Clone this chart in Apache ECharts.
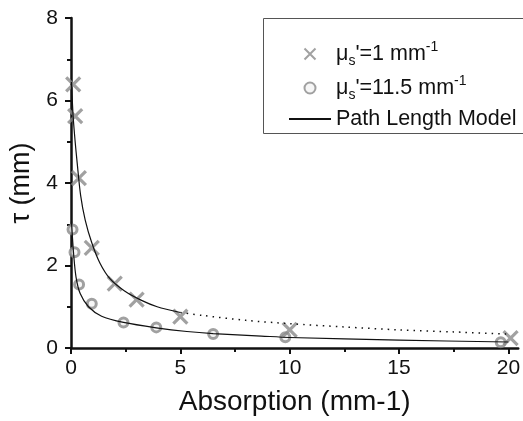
<!DOCTYPE html>
<html>
<head>
<meta charset="utf-8">
<script src="https://cdn.jsdelivr.net/npm/echarts@6/dist/echarts.min.js"></script>
<style>
  html, body { margin: 0; padding: 0; background: #fff; }
  #chart { width: 523px; height: 421px; }
</style>
</head>
<body>
<div id="chart"></div>
<script>
// measured points, mu_s' = 1 mm-1 (crosses)
const crossX = [0.1, 0.19, 0.36, 0.95, 2, 3, 5, 10, 20.1];
const crossY = [6.39, 5.62, 4.12, 2.43, 1.56, 1.17, 0.76, 0.44, 0.24];
// measured points, mu_s' = 11.5 mm-1 (circles)
const circX = [0.07, 0.16, 0.37, 0.95, 2.4, 3.9, 6.5, 9.8, 19.65];
const circY = [2.87, 2.32, 1.54, 1.07, 0.62, 0.5, 0.34, 0.26, 0.14];
// path length model, upper curve (solid part, then dotted extension)
const upperX = [0.02, 0.1, 0.19, 0.28, 0.44, 0.65, 0.95, 1.32, 1.78, 2.45, 3.2, 3.94, 5.0];
const upperY = [6.45, 5.6, 5.0, 4.5, 3.7, 3.1, 2.55, 2.06, 1.68, 1.38, 1.16, 1.0, 0.86];
const dotX = [5, 6, 8, 10, 12.5, 15, 17.5, 20];
const dotY = [0.86, 0.79, 0.67, 0.59, 0.51, 0.44, 0.39, 0.335];
// path length model, lower curve
const lowerX = [0.02, 0.12, 0.23, 0.42, 0.8, 1.4, 2.4, 3.9, 5.3, 6.5, 8.7, 10, 15, 20];
const lowerY = [3.07, 2.28, 1.72, 1.32, 1.0, 0.77, 0.62, 0.49, 0.40, 0.35, 0.29, 0.255, 0.19, 0.145];

const xTicks = [0, 5, 10, 15, 20];
const xMinorTicks = [2.5, 7.5, 12.5, 17.5];

const pairs = (xs, ys) => xs.map((x, i) => [x, ys[i]]);

const font = '"Liberation Sans", Arial, sans-serif';
const grey = '#8a8a8a';

const chart = echarts.init(document.getElementById('chart'));

const legendText = {
  cross: '{a|\u03bc}{sub|s}{a|\'=1 mm}{sup|-1}',
  circ: '{a|\u03bc}{sub|s}{a|\'=11.5 mm}{sup|-1}',
  'Path Length Model': '{a|Path Length Model}'
};

chart.setOption({
  animation: false,
  grid: { left: 67.7, right: 2, top: 18, bottom: 69.3 },
  graphic: [{
    type: 'rect',
    shape: { x: 263.5, y: 18.5, width: 270, height: 115 },
    style: { fill: 'none', stroke: '#555', lineWidth: 1 },
    z: 10
  }],
  legend: {
    orient: 'vertical',
    left: 283,
    top: 35,
    itemWidth: 42,
    itemHeight: 11,
    itemGap: 6,
    data: [
      { name: 'cross' },
      { name: 'circ' },
      { name: 'Path Length Model', itemStyle: { color: 'rgba(0,0,0,0)', borderColor: 'rgba(0,0,0,0)', borderWidth: 0 } }
    ],
    formatter: name => legendText[name],
    textStyle: {
      fontFamily: font,
      color: '#111',
      rich: {
        a: { fontSize: 21.5, fontFamily: font, color: '#111', lineHeight: 28 },
        sub: { fontSize: 14, fontFamily: font, color: '#111', verticalAlign: 'bottom', lineHeight: 28 },
        sup: { fontSize: 14, fontFamily: font, color: '#111', verticalAlign: 'top', lineHeight: 28 }
      }
    },
    selectedMode: false
  },
  xAxis: [{
    type: 'value',
    min: 0,
    max: 20.45,
    name: 'Absorption (mm-1)',
    nameLocation: 'middle',
    nameGap: 40,
    nameTextStyle: { fontSize: 28, fontFamily: font, color: '#111' },
    splitLine: { show: false },
    axisLine: { show: true, onZero: false, lineStyle: { color: '#111', width: 2.5 } },
    axisTick: { show: true, length: 6, customValues: xTicks, lineStyle: { color: '#111', width: 2 } },
    axisLabel: { customValues: xTicks, margin: 10, fontSize: 21, fontFamily: font, color: '#111' }
  }, {
    type: 'value',
    min: 0,
    max: 20.45,
    position: 'bottom',
    splitLine: { show: false },
    axisLine: { show: false },
    axisTick: { show: true, length: 4, customValues: xMinorTicks, lineStyle: { color: '#111', width: 2 } },
    axisLabel: { show: false }
  }],
  yAxis: {
    type: 'value',
    min: 0,
    max: 8,
    interval: 2,
    name: '\u03c4 (mm)',
    nameLocation: 'middle',
    nameGap: 36,
    nameTextStyle: { fontSize: 27, fontFamily: font, color: '#111' },
    splitLine: { show: false },
    axisLine: { show: true, onZero: false, lineStyle: { color: '#111', width: 2.5 } },
    axisTick: { show: true, length: 6, lineStyle: { color: '#111', width: 2 } },
    minorTick: { show: true, splitNumber: 2, length: 4, lineStyle: { color: '#111', width: 2 } },
    axisLabel: { margin: 13, fontSize: 21, fontFamily: font, color: '#111' }
  },
  series: [
    {
      name: 'circ',
      type: 'scatter',
      data: pairs(circX, circY),
      symbol: 'circle',
      symbolSize: 9,
      itemStyle: { color: '#f4f4f4', borderColor: grey, borderWidth: 3 }
    },
    {
      name: 'Path Length Model',
      type: 'line',
      data: pairs(upperX, upperY),
      smooth: 0.3,
      showSymbol: false,
      symbol: 'none',
      lineStyle: { color: '#111', width: 1.2 },
      itemStyle: { color: '#111' }
    },
    {
      name: 'Path Length Model',
      type: 'line',
      data: pairs(lowerX, lowerY),
      smooth: 0.3,
      showSymbol: false,
      symbol: 'none',
      lineStyle: { color: '#111', width: 1.2 },
      itemStyle: { color: '#111' }
    },
    {
      name: 'model extension',
      type: 'line',
      data: pairs(dotX, dotY),
      smooth: 0.3,
      showSymbol: false,
      symbol: 'none',
      lineStyle: { color: '#111', width: 1.5, type: [1.5, 5] }
    },
    {
      name: 'cross',
      type: 'scatter',
      data: pairs(crossX, crossY),
      symbol: 'path://M0,0L10,10M10,0L0,10',
      symbolSize: 14,
      itemStyle: { color: 'none', borderColor: grey, borderWidth: 3.2 }
    }
  ]
});
</script>
</body>
</html>
